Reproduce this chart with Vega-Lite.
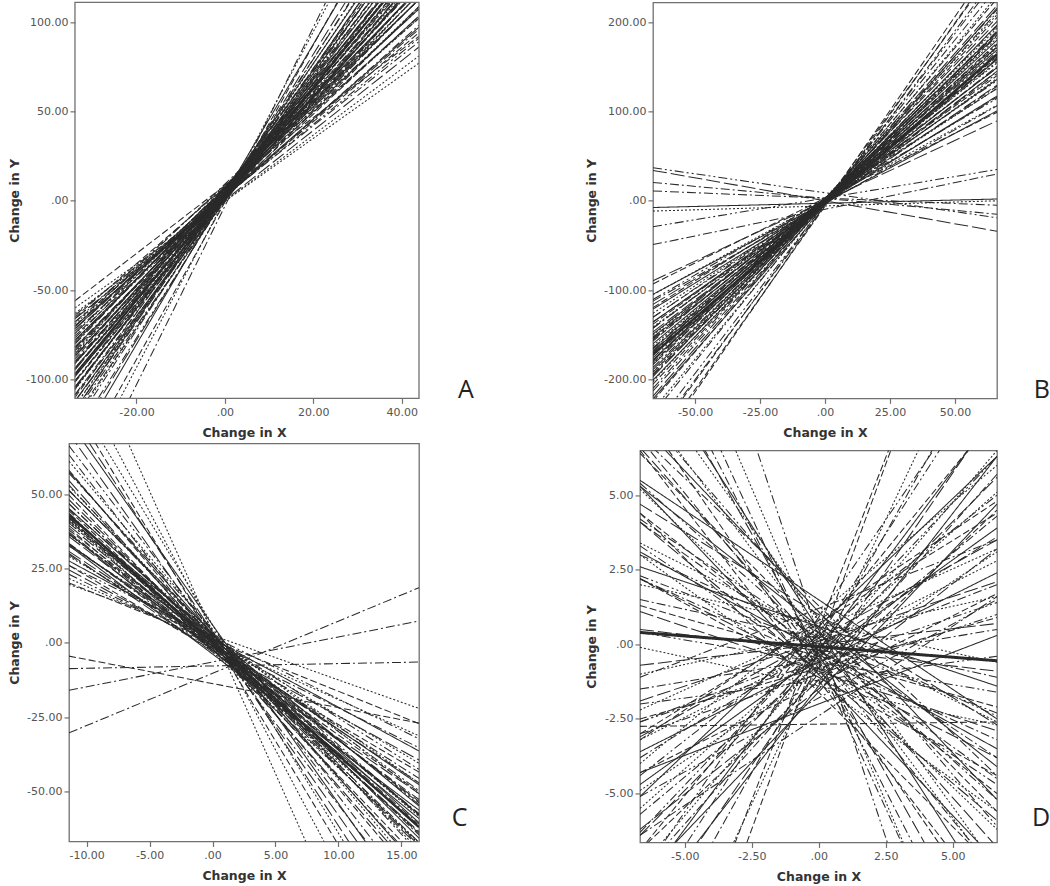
{
 "$schema": "https://vega.github.io/schema/vega-lite/v6.json",
 "padding": {"left": 7, "top": 1.35, "right": 5, "bottom": 2},
 "background": "white",
 "config": {
  "view": {"stroke": "#707070", "strokeWidth": 1.3},
  "axis": {"grid": false, "domain": false, "ticks": true, "tickSize": 5, "tickColor": "#707070", "tickWidth": 1.2,
   "labelFont": "DejaVu Sans", "labelFontSize": 11, "labelColor": "#555555",
   "titleFont": "DejaVu Sans", "titleFontSize": 12.5, "titleFontWeight": "bold", "titleColor": "#333333",
   "labelExpr": "datum.value == 0 ? '.00' : replace(format(datum.value, '.2f'), '\u2212', '-')"},
  "axisX": {"labelPadding": 3, "titleY": 34, "titleBaseline": "middle"},
  "axisY": {"labelPadding": 2, "titleBaseline": "middle"}
 },
 "datasets": {
  "A": [
   {"L":-56,"R":92,"k":2},{"L":-60,"R":77,"k":3},{"L":-63,"R":81,"k":3},{"L":-64,"R":89,"k":4},{"L":-66,"R":91,"k":5},{"L":-68,"R":94,"k":2},{"L":-66,"R":86,"k":6},{"L":-70,"R":96,"k":4},
   {"L":-70.2,"R":97.1,"k":1},{"L":-65.2,"R":102.1,"k":2},{"L":-69.0,"R":102.2,"k":3},{"L":-73.0,"R":98.2,"k":4},{"L":-67.8,"R":107.3,"k":5},{"L":-71.8,"R":103.3,"k":6},
   {"L":-71.6,"R":107.4,"k":1},{"L":-75.6,"R":103.4,"k":2},{"L":-74.4,"R":108.5,"k":3},{"L":-70.4,"R":112.5,"k":4},{"L":-78.2,"R":108.6,"k":5},{"L":-74.2,"R":112.6,"k":6},
   {"L":-78.0,"R":112.7,"k":1},{"L":-82.0,"R":108.7,"k":2},{"L":-78.8,"R":115.8,"k":3},{"L":-81.8,"R":112.8,"k":4},{"L":-76.8,"R":117.8,"k":5},{"L":-82.5,"R":115.8,"k":6},
   {"L":-79.5,"R":118.8,"k":1},{"L":-83.3,"R":118.9,"k":2},{"L":-86.3,"R":115.9,"k":3},{"L":-80.3,"R":121.9,"k":4},{"L":-84.1,"R":122.0,"k":5},{"L":-87.1,"R":119.0,"k":6},
   {"L":-86.9,"R":123.1,"k":1},{"L":-90.9,"R":119.1,"k":2},{"L":-84.9,"R":125.1,"k":3},{"L":-89.7,"R":124.2,"k":4},{"L":-85.7,"R":128.2,"k":5},{"L":-90.5,"R":127.3,"k":6},
   {"L":-93.5,"R":124.3,"k":1},{"L":-88.5,"R":129.3,"k":2},{"L":-91.3,"R":130.4,"k":3},{"L":-94.3,"R":127.4,"k":4},{"L":-94.1,"R":131.5,"k":5},{"L":-91.1,"R":134.5,"k":6},
   {"L":-98.1,"R":127.5,"k":1},{"L":-96.9,"R":132.6,"k":2},{"L":-93.9,"R":135.6,"k":3},{"L":-97.7,"R":135.7,"k":4},{"L":-100.7,"R":132.7,"k":5},{"L":-94.7,"R":138.7,"k":6},
   {"L":-98.5,"R":138.8,"k":1},{"L":-101.5,"R":135.8,"k":2},{"L":-101.3,"R":139.9,"k":3},{"L":-104.3,"R":136.9,"k":4},{"L":-101.1,"R":144.0,"k":5},{"L":-104.1,"R":141.0,"k":6},
   {"L":-104.9,"R":144.1,"k":1},{"L":-108.9,"R":140.1,"k":2},{"L":-105.7,"R":147.2,"k":3},{"L":-108.5,"R":148.3,"k":4},{"L":-105.5,"R":151.3,"k":5},{"L":-112.3,"R":148.4,"k":6},
   {"L":-112.1,"R":152.5,"k":1},{"L":-110.1,"R":154.5,"k":2},{"L":-114.9,"R":153.6,"k":3},{"L":-114.7,"R":157.7,"k":4},{"L":-118.7,"R":153.7,"k":5},{"L":-117.4,"R":158.7,"k":6},
   {"L":-117.2,"R":162.8,"k":1},{"L":-121.2,"R":158.8,"k":2},{"L":-122.8,"R":165.0,"k":3},{"L":-125.4,"R":170.2,"k":4},{"L":-131.0,"R":172.4,"k":5},{"L":-133.6,"R":177.6,"k":6},
   {"L":-138.8,"R":188.0,"k":1},{"L":-150.0,"R":192.4,"k":2},{"L":-158.7,"R":206.9,"k":3},{"L":-172.5,"R":216.5,"k":4},
   {"L":-97,"R":135,"k":1,"m":1}
  ],
  "B": [
   {"L":37,"R":-19,"k":5},{"L":34,"R":-34,"k":6},{"L":20.5,"R":-15,"k":4},{"L":11,"R":-5,"k":4},{"L":-7.5,"R":2,"k":1},{"L":-11.5,"R":0,"k":3},{"L":-29,"R":35,"k":5},{"L":-49,"R":30,"k":4},
   {"L":-89.4,"R":89.4,"k":6},{"L":-93.0,"R":99.0,"k":2},{"L":-104.6,"R":100.6,"k":1},{"L":-104.9,"R":106.9,"k":3},{"L":-112.2,"R":106.2,"k":4},{"L":-110.5,"R":114.5,"k":5},
   {"L":-115.9,"R":115.9,"k":6},{"L":-121.2,"R":117.2,"k":1},{"L":-119.5,"R":125.5,"k":2},{"L":-125.8,"R":125.8,"k":3},{"L":-130.1,"R":128.1,"k":4},{"L":-130.4,"R":134.4,"k":5},
   {"L":-135.4,"R":129.4,"k":6},{"L":-135.7,"R":135.7,"k":1},{"L":-138.0,"R":140.0,"k":2},{"L":-141.0,"R":137.0,"k":3},{"L":-142.3,"R":142.3,"k":4},{"L":-142.6,"R":148.6,"k":5},
   {"L":-146.6,"R":144.6,"k":6},{"L":-149.0,"R":149.0,"k":1},{"L":-153.0,"R":145.0,"k":2},{"L":-150.3,"R":154.3,"k":3},{"L":-154.3,"R":150.3,"k":4},{"L":-155.6,"R":155.6,"k":5},
   {"L":-152.6,"R":158.6,"k":6},{"L":-159.9,"R":157.9,"k":1},{"L":-156.9,"R":160.9,"k":2},{"L":-162.2,"R":162.2,"k":3},{"L":-165.2,"R":159.2,"k":4},{"L":-164.5,"R":166.5,"k":5},
   {"L":-167.5,"R":163.5,"k":6},{"L":-168.8,"R":168.8,"k":1},{"L":-165.8,"R":171.8,"k":2},{"L":-173.1,"R":171.1,"k":3},{"L":-170.1,"R":174.1,"k":4},{"L":-175.4,"R":175.4,"k":5},
   {"L":-178.4,"R":172.4,"k":6},{"L":-177.7,"R":179.7,"k":1},{"L":-180.7,"R":176.7,"k":2},{"L":-182.1,"R":182.1,"k":3},{"L":-179.1,"R":185.1,"k":4},{"L":-186.4,"R":184.4,"k":5},
   {"L":-183.4,"R":187.4,"k":6},{"L":-188.7,"R":188.7,"k":1},{"L":-191.7,"R":185.7,"k":2},{"L":-191.0,"R":193.0,"k":3},{"L":-194.0,"R":190.0,"k":4},{"L":-195.3,"R":195.3,"k":5},
   {"L":-196.6,"R":200.6,"k":6},{"L":-200.6,"R":196.6,"k":1},{"L":-205.2,"R":205.2,"k":2},{"L":-202.2,"R":208.2,"k":3},{"L":-212.8,"R":210.8,"k":4},{"L":-209.8,"R":213.8,"k":5},
   {"L":-218.5,"R":218.5,"k":6},{"L":-221.5,"R":215.5,"k":1},{"L":-224.1,"R":226.1,"k":2},{"L":-233.7,"R":229.7,"k":3},{"L":-238.3,"R":238.3,"k":4},{"L":-254.6,"R":248.6,"k":5},
   {"L":-266.8,"R":262.8,"k":2},{"L":-282.0,"R":274.0,"k":2},{"L":-263.2,"R":253.2,"k":4},{"L":-277.4,"R":265.4,"k":2},
   {"L":-172,"R":164,"k":1,"m":1}
  ],
  "C": [
   {"L":19.6,"R":-22.1,"k":3},{"L":20.1,"R":-27.2,"k":2},{"L":21.6,"R":-31.3,"k":3},{"L":23.0,"R":-35.3,"k":4},{"L":26.0,"R":-32.3,"k":5},{"L":24.5,"R":-39.4,"k":6},
   {"L":27.5,"R":-36.4,"k":1},{"L":26.0,"R":-43.5,"k":2},{"L":29.0,"R":-40.5,"k":3},{"L":29.5,"R":-45.6,"k":4},{"L":32.5,"R":-42.6,"k":5},{"L":30.0,"R":-50.7,"k":6},
   {"L":33.0,"R":-47.7,"k":1},{"L":33.2,"R":-50.2,"k":2},{"L":36.2,"R":-47.2,"k":3},{"L":33.4,"R":-52.7,"k":4},{"L":36.4,"R":-49.7,"k":5},{"L":35.7,"R":-53.3,"k":6},
   {"L":32.7,"R":-56.3,"k":1},{"L":37.9,"R":-53.8,"k":2},{"L":40.9,"R":-50.8,"k":3},{"L":37.2,"R":-57.4,"k":4},{"L":40.2,"R":-54.4,"k":5},{"L":39.4,"R":-57.9,"k":6},
   {"L":42.4,"R":-54.9,"k":1},{"L":38.6,"R":-61.4,"k":2},{"L":41.6,"R":-58.4,"k":3},{"L":41.9,"R":-61.0,"k":4},{"L":44.9,"R":-58.0,"k":5},{"L":42.1,"R":-63.5,"k":6},
   {"L":45.1,"R":-60.5,"k":1},{"L":44.4,"R":-64.1,"k":2},{"L":41.4,"R":-67.1,"k":3},{"L":46.6,"R":-64.6,"k":4},{"L":43.6,"R":-67.6,"k":5},{"L":48.1,"R":-68.7,"k":6},
   {"L":51.1,"R":-65.7,"k":1},{"L":49.6,"R":-72.8,"k":2},{"L":52.6,"R":-69.8,"k":3},{"L":53.0,"R":-74.8,"k":4},{"L":57.0,"R":-70.8,"k":5},{"L":54.5,"R":-78.9,"k":6},
   {"L":57.5,"R":-75.9,"k":1},{"L":58.0,"R":-81.0,"k":2},{"L":61.0,"R":-78.0,"k":3},{"L":63.2,"R":-89.7,"k":4},{"L":66.2,"R":-86.7,"k":5},{"L":70.4,"R":-96.4,"k":6},
   {"L":74.4,"R":-92.4,"k":1},{"L":81.8,"R":-112.8,"k":2},{"L":85.8,"R":-108.8,"k":3},{"L":95.2,"R":-127.2,"k":3},{"L":111.8,"R":-152.3,"k":3},{"L":77.6,"R":-103.1,"k":6},
   {"L":36.8,"R":-59.1,"k":1},{"L":41.0,"R":-57.7,"k":2},{"L":40.5,"R":-63.8,"k":3},{"L":46.8,"R":-67.1,"k":4},{"L":51.3,"R":-68.2,"k":5},{"L":30.7,"R":-47.1,"k":6},
   {"L":-30.3,"R":18.5,"k":4},{"L":-16.0,"R":7.3,"k":4},{"L":-8.7,"R":-6.5,"k":4},{"L":-4.5,"R":-27,"k":2},
   {"L":43,"R":-62,"k":1,"m":1}
  ],
  "D": [
   {"L":-16.4,"R":16.2,"k":2},{"L":-14.8,"R":15.8,"k":2},{"L":-13.3,"R":12.1,"k":3},{"L":-11.0,"R":10.4,"k":4},{"L":-9.1,"R":9.5,"k":5},{"L":-9.5,"R":7.9,"k":6},
   {"L":-8.2,"R":7.8,"k":1},{"L":-6.9,"R":7.7,"k":2},{"L":-7.5,"R":6.5,"k":3},{"L":-7.7,"R":5.7,"k":4},{"L":-6.3,"R":6.3,"k":5},{"L":-6.4,"R":5.6,"k":6},
   {"L":-5.1,"R":6.3,"k":1},{"L":-6.9,"R":4.5,"k":2},{"L":-5.5,"R":5.1,"k":3},{"L":-5.7,"R":4.3,"k":4},{"L":-4.4,"R":5.0,"k":5},{"L":-6.2,"R":3.2,"k":6},
   {"L":-4.7,"R":3.9,"k":1},{"L":-3.2,"R":4.8,"k":2},{"L":-4.9,"R":3.1,"k":3},{"L":-3.8,"R":3.6,"k":4},{"L":-5.1,"R":1.5,"k":5},{"L":-3.1,"R":3.5,"k":6},
   {"L":-3.6,"R":2.4,"k":1},{"L":-4.3,"R":1.7,"k":2},{"L":-2.2,"R":3.2,"k":3},{"L":-2.6,"R":2.0,"k":4},{"L":-3.0,"R":1.0,"k":5},{"L":-1.9,"R":2.1,"k":6},
   {"L":-4.3,"R":0.3,"k":1},{"L":-2.5,"R":0.9,"k":2},{"L":-1.0,"R":1.6,"k":3},{"L":-1.5,"R":0.5,"k":4},{"L":-2.0,"R":-0.4,"k":5},{"L":-0.7,"R":0.7,"k":6},
   {"L":-2.75,"R":-2.6,"k":2},{"L":-7.9,"R":4.7,"k":1},{"L":-4.0,"R":6.0,"k":3},{"L":-6.4,"R":1.6,"k":4},{"L":-7.8,"R":9.6,"k":5},{"L":-9.1,"R":6.3,"k":1},
   {"L":-3.0,"R":4.4,"k":2},{"L":-3.2,"R":2.8,"k":3},{"L":-1.1,"R":3.5,"k":4},{"L":-2.6,"R":1.4,"k":5},
   {"L":14.0,"R":-14.0,"k":3},{"L":12.4,"R":-13.6,"k":4},{"L":18.3,"R":-17.7,"k":5},{"L":10.4,"R":-11.0,"k":6},{"L":9.8,"R":-8.8,"k":1},{"L":7.9,"R":-9.5,"k":2},
   {"L":8.2,"R":-7.8,"k":3},{"L":6.9,"R":-7.7,"k":4},{"L":7.9,"R":-6.1,"k":5},{"L":6.6,"R":-6.8,"k":6},{"L":5.3,"R":-7.3,"k":1},{"L":6.4,"R":-5.6,"k":2},
   {"L":5.2,"R":-6.2,"k":3},{"L":7.0,"R":-4.4,"k":4},{"L":5.4,"R":-5.2,"k":5},{"L":4.1,"R":-5.9,"k":6},{"L":5.3,"R":-4.1,"k":1},{"L":4.4,"R":-5.0,"k":2},
   {"L":3.0,"R":-5.6,"k":3},{"L":4.2,"R":-3.8,"k":4},{"L":3.3,"R":-4.7,"k":5},{"L":4.7,"R":-2.7,"k":6},{"L":3.1,"R":-3.5,"k":1},{"L":2.2,"R":-4.4,"k":2},
   {"L":3.4,"R":-2.6,"k":3},{"L":2.2,"R":-3.2,"k":4},{"L":2.3,"R":-2.3,"k":5},{"L":1.1,"R":-2.9,"k":6},{"L":2.6,"R":-1.4,"k":1},{"L":1.3,"R":-2.1,"k":2},
   {"L":-0.1,"R":-2.7,"k":3},{"L":1.5,"R":-1.1,"k":4},{"L":0.4,"R":-1.6,"k":5},{"L":0.5,"R":-0.9,"k":6},{"L":5.5,"R":-2.5,"k":1},{"L":4.4,"R":-7.6,"k":2},
   {"L":9.1,"R":-7.5,"k":3},{"L":4.1,"R":-4.5,"k":4},{"L":3.0,"R":-2.4,"k":5},{"L":2.2,"R":-3.8,"k":6},{"L":7.4,"R":-5.2,"k":1},{"L":6.5,"R":-8.9,"k":2},
   {"L":11.2,"R":-12.2,"k":4},{"L":2.0,"R":-0.6,"k":3},
   {"L":0.4,"R":-0.55,"k":1,"m":1}
  ]
 },
 "columns": 2,
 "align": "none",
 "bounds": "full",
 "spacing": {"row": 2.1, "column": 111},
 "concat": [
  {
   "width": 350, "height": 396,
   "view": {"stroke": null},
   "layer": [
    {
     "data": {"name": "A"},
     "mark": {"type": "rule", "clip": true, "color": "#2a2a2a"},
     "encoding": {
      "x": {"datum": -33.9, "type": "quantitative", "scale": {"domain": [-35.25, 43.9], "nice": false, "zero": false}, "axis": {"values": [-20, 0, 20, 40], "title": "Change in X"}},
      "x2": {"datum": 43.9},
      "y": {"field": "L", "type": "quantitative", "scale": {"domain": [-110.6, 111], "nice": false, "zero": false}, "axis": {"values": [-100, -50, 0, 50, 100], "offset": -6, "titleX": -61, "title": "Change in Y"}},
      "y2": {"field": "R"},
      "strokeDash": {"field": "k", "type": "nominal", "scale": {"domain": [1, 2, 3, 4, 5, 6], "range": [[1, 0], [7, 3], [2, 2], [9, 3, 2, 3], [9, 3, 2, 3, 2, 3], [14, 4]]}, "legend": null},
      "strokeWidth": {"condition": {"test": "datum.m == 1", "value": 1.8}, "value": 1.05}
     }
    },
    {
     "data": {"values": [{"t": "frame"}]},
     "mark": {"type": "rect", "filled": false, "color": "#707070", "strokeWidth": 1.3},
     "encoding": {"x": {"datum": -33.9, "type": "quantitative"}, "x2": {"datum": 43.9}, "y": {"datum": -110.6, "type": "quantitative"}, "y2": {"datum": 111}}
    },
    {
     "data": {"values": [{"t": "A"}]},
     "mark": {"type": "text", "font": "Open Sans", "fontSize": 25, "align": "left", "baseline": "alphabetic", "color": "#222222"},
     "encoding": {"x": {"datum": 52.7, "type": "quantitative"}, "y": {"datum": -110.6, "type": "quantitative"}, "text": {"field": "t"}}
    }
   ]
  },
  {
   "width": 344, "height": 396,
   "layer": [
    {
     "data": {"name": "B"},
     "mark": {"type": "rule", "clip": true, "color": "#2a2a2a"},
     "encoding": {
      "x": {"datum": -66.2, "type": "quantitative", "scale": {"domain": [-66.2, 66.2], "nice": false, "zero": false}, "axis": {"values": [-50, -25, 0, 25, 50], "title": "Change in X"}},
      "x2": {"datum": 66.2},
      "y": {"field": "L", "type": "quantitative", "scale": {"domain": [-221, 222], "nice": false, "zero": false}, "axis": {"values": [-200, -100, 0, 100, 200], "titleX": -61, "title": "Change in Y"}},
      "y2": {"field": "R"},
      "strokeDash": {"field": "k", "type": "nominal", "scale": {"domain": [1, 2, 3, 4, 5, 6], "range": [[1, 0], [7, 3], [2, 2], [9, 3, 2, 3], [9, 3, 2, 3, 2, 3], [14, 4]]}, "legend": null},
      "strokeWidth": {"condition": {"test": "datum.m == 1", "value": 2.4}, "value": 1.05}
     }
    },
    {
     "data": {"values": [{"t": "B"}]},
     "mark": {"type": "text", "font": "Open Sans", "fontSize": 25, "align": "left", "baseline": "alphabetic", "color": "#222222"},
     "encoding": {"x": {"datum": 80.3, "type": "quantitative"}, "y": {"datum": -221, "type": "quantitative"}, "text": {"field": "t"}}
    }
   ]
  },
  {
   "width": 350, "height": 398,
   "layer": [
    {
     "data": {"name": "C"},
     "mark": {"type": "rule", "clip": true, "color": "#2a2a2a"},
     "encoding": {
      "x": {"datum": -11.4, "type": "quantitative", "scale": {"domain": [-11.4, 16.4], "nice": false, "zero": false}, "axis": {"values": [-10, -5, 0, 5, 10, 15], "title": "Change in X"}},
      "x2": {"datum": 16.4},
      "y": {"field": "L", "type": "quantitative", "scale": {"domain": [-66.8, 67], "nice": false, "zero": false}, "axis": {"values": [-50, -25, 0, 25, 50], "titleX": -55, "title": "Change in Y"}},
      "y2": {"field": "R"},
      "strokeDash": {"field": "k", "type": "nominal", "scale": {"domain": [1, 2, 3, 4, 5, 6], "range": [[1, 0], [7, 3], [2, 2], [9, 3, 2, 3], [9, 3, 2, 3, 2, 3], [14, 4]]}, "legend": null},
      "strokeWidth": {"condition": {"test": "datum.m == 1", "value": 2.4}, "value": 1.05}
     }
    },
    {
     "data": {"values": [{"t": "C"}]},
     "mark": {"type": "text", "font": "Open Sans", "fontSize": 25, "align": "left", "baseline": "alphabetic", "color": "#222222"},
     "encoding": {"x": {"datum": 19.0, "type": "quantitative"}, "y": {"datum": -61.7, "type": "quantitative"}, "text": {"field": "t"}}
    }
   ]
  },
  {
   "width": 357, "height": 392,
   "title": {"text": ".", "color": "#ffffff", "fontSize": 7, "offset": -7, "baseline": "bottom"},
   "layer": [
    {
     "data": {"name": "D"},
     "mark": {"type": "rule", "clip": true, "color": "#2a2a2a"},
     "encoding": {
      "x": {"datum": -6.67, "type": "quantitative", "scale": {"domain": [-6.67, 6.65], "nice": false, "zero": false}, "axis": {"values": [-5, -2.5, 0, 2.5, 5], "title": "Change in X"}},
      "x2": {"datum": 6.65},
      "y": {"field": "L", "type": "quantitative", "scale": {"domain": [-6.64, 6.5], "nice": false, "zero": false}, "axis": {"values": [-5, -2.5, 0, 2.5, 5], "titleX": -48, "title": "Change in Y"}},
      "y2": {"field": "R"},
      "strokeDash": {"field": "k", "type": "nominal", "scale": {"domain": [1, 2, 3, 4, 5, 6], "range": [[1, 0], [7, 3], [2, 2], [9, 3, 2, 3], [9, 3, 2, 3, 2, 3], [14, 4]]}, "legend": null},
      "strokeWidth": {"condition": {"test": "datum.m == 1", "value": 3}, "value": 1.05}
     }
    },
    {
     "data": {"values": [{"t": "D"}]},
     "mark": {"type": "text", "font": "Open Sans", "fontSize": 25, "align": "left", "baseline": "alphabetic", "color": "#222222"},
     "encoding": {"x": {"datum": 7.96, "type": "quantitative"}, "y": {"datum": -6.1, "type": "quantitative"}, "text": {"field": "t"}}
    }
   ]
  }
 ]
}
